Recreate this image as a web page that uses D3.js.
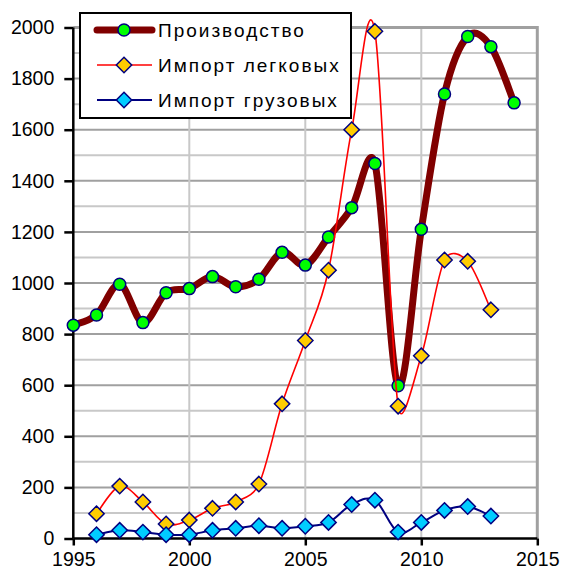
<!DOCTYPE html>
<html lang="ru">
<head>
<meta charset="UTF-8">
<title>Производство и импорт</title>
<style>
	body { margin: 0; background: #fff; font-family: "Liberation Sans", Arial, sans-serif; }
	svg text { fill: #000; }
	.legend text { font-size: 19px; letter-spacing: 2px; }
</style>
</head>
<body>
<svg></svg>
<script src="https://cdnjs.cloudflare.com/ajax/libs/d3/7.8.5/d3.min.js"></script>
<script>
	const width = 563, height = 572;
	const margin = {top: 27.5, right: 25.7, bottom: 33.5, left: 73.3};

	// Производство, 1995-2014
	const prodYears = [1995,1996,1997,1998,1999,2000,2001,2002,2003,2004,2005,2006,2007,2008,2009,2010,2011,2012,2013,2014];
	const prodValues = [835,875,995,845,962,978,1025,985,1015,1120,1070,1180,1295,1468,598,1210,1740,1965,1925,1705];

	// Импорт, 1996-2013
	const importYears = [1996,1997,1998,1999,2000,2001,2002,2003,2004,2005,2006,2007,2008,2009,2010,2011,2012,2013];
	const carValues = [97,205,143,57,72,118,143,213,527,775,1050,1600,1985,518,715,1090,1085,895];
	const truckValues = [15,32,25,15,15,32,40,50,40,48,63,133,150,25,63,110,125,88];

	const xTicks = [1995,2000,2005,2010,2015];
	const yTicks = [0,200,400,600,800,1000,1200,1400,1600,1800,2000];
	const seriesNames = ['Производство','Импорт легковых','Импорт грузовых'];

	const svg = d3.select('svg').attr('width', width).attr('height', height);

	const x = d3.scaleLinear().domain([1995, 2015]).range([margin.left, width - margin.right]);
	const y = d3.scaleLinear().domain([0, 2000]).range([height - margin.bottom, margin.top]);

	// grid lines
	const minor = d3.range(100, 2000, 200);
	svg.append('g').selectAll('line').data(minor).join('line')
		.attr('x1', x(1995)).attr('x2', x(2015))
		.attr('y1', d => y(d)).attr('y2', d => y(d))
		.attr('stroke', '#c8c8c8').attr('stroke-width', 2);
	svg.append('g').selectAll('line').data(yTicks.slice(1, -1)).join('line')
		.attr('x1', x(1995)).attr('x2', x(2015))
		.attr('y1', d => y(d)).attr('y2', d => y(d))
		.attr('stroke', '#a0a0a0').attr('stroke-width', 2);
	svg.append('g').selectAll('line').data(xTicks.slice(1, -1)).join('line')
		.attr('x1', d => x(d)).attr('x2', d => x(d))
		.attr('y1', y(0)).attr('y2', y(2000))
		.attr('stroke', '#c8c8c8').attr('stroke-width', 2);
	// top / right border
	svg.append('path')
		.attr('d', `M${x(1995)},${y(2000)}H${x(2015)}V${y(0)}`)
		.attr('fill', 'none').attr('stroke', '#a0a0a0').attr('stroke-width', 3);

	// axes
	const yAxis = svg.append('g')
		.attr('transform', `translate(${x(1995)},0)`)
		.call(d3.axisLeft(y).tickValues(yTicks).tickSize(9).tickPadding(10).tickFormat(d3.format('d')));
	const xAxis = svg.append('g')
		.attr('transform', `translate(0,${y(0)})`)
		.call(d3.axisBottom(x).tickValues(xTicks).tickSize(7).tickPadding(7).tickFormat(d3.format('d')));
	[xAxis, yAxis].forEach(a => {
		a.select('.domain').attr('stroke', '#000').attr('stroke-width', 2.5);
		a.selectAll('.tick line').attr('stroke', '#000').attr('stroke-width', 2.5);
		a.selectAll('.tick text').attr('font-family', '"Liberation Sans", Arial, sans-serif').attr('font-size', 19.5);
	});
	yAxis.select('.domain').attr('d', `M0,${y(0)}V${y(2000)}`);
	xAxis.select('.domain').attr('d', `M${x(1995)},0H${x(2015)}`);

	// Excel-style smoothed line: Bezier segments, control arms limited to half a segment
	function smoothPath(pts) {
		const p = pts.map(d => [x(d[0]), y(d[1])]);
		const dist = (a, b) => Math.hypot(b[0] - a[0], b[1] - a[1]);
		let s = `M${p[0][0]},${p[0][1]}`;
		for (let i = 0; i < p.length - 1; i++) {
			const p0 = p[Math.max(i - 1, 0)], p1 = p[i], p2 = p[i + 1], p3 = p[Math.min(i + 2, p.length - 1)];
			const d12 = dist(p1, p2), d02 = dist(p0, p2), d13 = dist(p1, p3);
			const f1 = d02 / 6 < d12 / 2 ? 1 / 6 : d12 / (2 * d02);
			const f2 = d13 / 6 < d12 / 2 ? 1 / 6 : d12 / (2 * d13);
			const c1 = [p1[0] + f1 * (p2[0] - p0[0]), p1[1] + f1 * (p2[1] - p0[1])];
			const c2 = [p2[0] - f2 * (p3[0] - p1[0]), p2[1] - f2 * (p3[1] - p1[1])];
			s += `C${c1[0]},${c1[1]} ${c2[0]},${c2[1]} ${p2[0]},${p2[1]}`;
		}
		return s;
	}

	const prod = prodYears.map((yr, i) => [yr, prodValues[i]]);
	const cars = importYears.map((yr, i) => [yr, carValues[i]]);
	const trucks = importYears.map((yr, i) => [yr, truckValues[i]]);
	const diamond = d3.symbol().type(d3.symbolDiamond2).size(150);

	const plot = svg.append('g');

	plot.append('path').attr('d', smoothPath(prod))
		.attr('fill', 'none').attr('stroke', '#800000').attr('stroke-width', 7).attr('stroke-linejoin', 'round');
	plot.append('g').selectAll('circle').data(prod).join('circle')
		.attr('cx', d => x(d[0])).attr('cy', d => y(d[1])).attr('r', 6)
		.attr('fill', '#00ff00').attr('stroke', '#000080').attr('stroke-width', 1.5);

	plot.append('path').attr('d', smoothPath(cars))
		.attr('fill', 'none').attr('stroke', '#ff0000').attr('stroke-width', 1.6);
	plot.append('g').selectAll('path').data(cars).join('path')
		.attr('transform', d => `translate(${x(d[0])},${y(d[1])})`)
		.attr('d', diamond).attr('fill', '#ffcc00').attr('stroke', '#000080').attr('stroke-width', 1.5);

	plot.append('path').attr('d', smoothPath(trucks))
		.attr('fill', 'none').attr('stroke', '#000080').attr('stroke-width', 2);
	plot.append('g').selectAll('path').data(trucks).join('path')
		.attr('transform', d => `translate(${x(d[0])},${y(d[1])})`)
		.attr('d', diamond).attr('fill', '#00ccff').attr('stroke', '#000080').attr('stroke-width', 1.5);

	// legend
	const legend = svg.append('g').attr('class', 'legend');
	legend.append('rect').attr('x', 80).attr('y', 13).attr('width', 271).attr('height', 105)
		.attr('fill', '#fff').attr('stroke', '#000').attr('stroke-width', 2);
	const styles = [
		{stroke: '#800000', w: 7, fill: '#00ff00', shape: 'circle'},
		{stroke: '#ff0000', w: 1.6, fill: '#ffcc00', shape: 'diamond'},
		{stroke: '#000080', w: 2, fill: '#00ccff', shape: 'diamond'}
	];
	seriesNames.forEach((name, i) => {
		const yy = 30 + i * 35, s = styles[i];
		const row = legend.append('g');
		row.append('line').attr('x1', 97).attr('x2', 152).attr('y1', yy).attr('y2', yy)
			.attr('stroke', s.stroke).attr('stroke-width', s.w).attr('stroke-linecap', i === 0 ? 'round' : 'butt');
		if (s.shape === 'circle') {
			row.append('circle').attr('cx', 124).attr('cy', yy).attr('r', 6)
				.attr('fill', s.fill).attr('stroke', '#000080').attr('stroke-width', 1.5);
		} else {
			row.append('path').attr('transform', `translate(124,${yy})`).attr('d', diamond)
				.attr('fill', s.fill).attr('stroke', '#000080').attr('stroke-width', 1.5);
		}
		row.append('text').attr('x', 158).attr('y', yy + 7).text(name);
	});
</script>
</body>
</html>
